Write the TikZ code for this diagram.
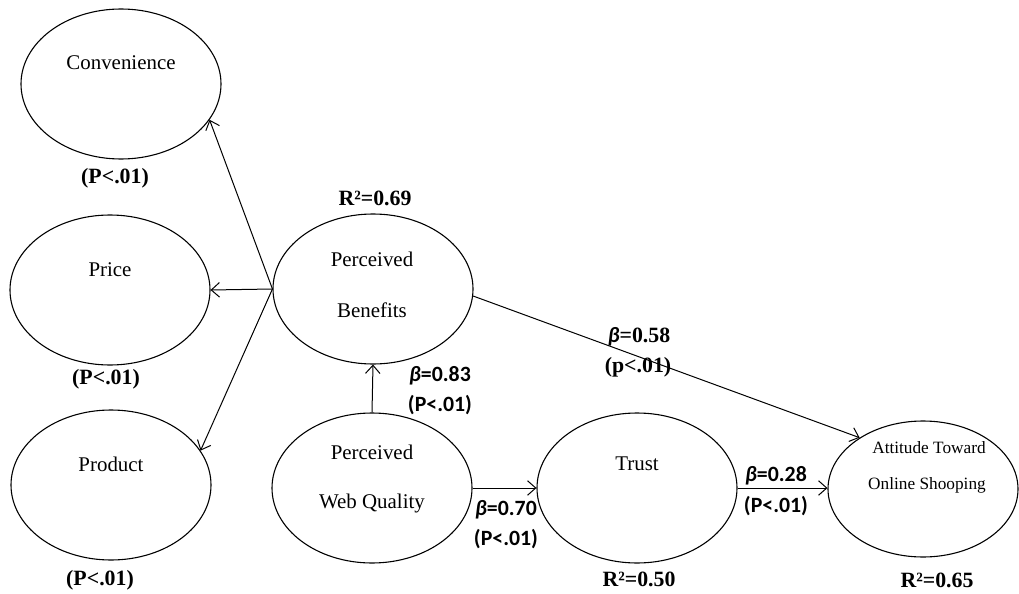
\documentclass[tikz,border=0pt]{standalone}
\usepackage{fontspec}
\setmainfont{Liberation Serif}
\newfontfamily\calib{Carlito}
\usetikzlibrary{shapes.geometric,arrows.meta}

\begin{document}
\begin{tikzpicture}[x=0.55pt,y=-0.55pt,
    latent/.style={ellipse,draw,line width=0.6pt,minimum width=110pt,minimum height=82.5pt,inner sep=0pt},
    smalllatent/.style={latent,minimum width=104.5pt,minimum height=74.8pt},
    construct/.style={font=\fontsize{11.5}{13}\selectfont,inner sep=0pt},
    sig/.style={font=\bfseries\fontsize{12}{14}\selectfont,inner sep=0pt},
    coef/.style={font=\calib\bfseries\fontsize{12}{14}\selectfont,inner sep=0pt},
    link/.style={-{Straight Barb[length=4.5pt,width=8pt]},line width=0.55pt}]

      \useasboundingbox (0,0) rectangle (1019,594);

      % ellipses
      \node[latent] (conv)  at (121,84)  {};
      \node[latent] (price) at (110,290) {};
      \node[latent] (prod)  at (111,485) {};
      \node[latent] (pb)    at (373,289) {};
      \node[latent] (pwq)   at (372,488) {};
      \node[latent] (trust) at (637,488) {};
      \node[smalllatent] (att) at (923,489) {};

      % names inside the ellipses
      \begin{scope}[every node/.style={construct}]
        \node (convtxt)  at (121,63)  {Convenience};
        \node (pricetxt) at (110,270) {Price};
        \node (prodtxt)  at (111,464) {Product};
        \node (pbtxt1)   at (372,259) {Perceived};
        \node (pbtxt2)   at (372,310) {Benefits};
        \node (pwqtxt1)  at (372,452) {Perceived};
        \node (pwqtxt2)  at (372,503) {Web Quality};
        \node (trusttxt) at (637,464) {Trust};
        \node[font=\fontsize{9.5}{11}\selectfont] (atttxt1) at (929,448) {Attitude Toward};
        \node[font=\fontsize{9.5}{11}\selectfont] (atttxt2) at (927,485) {Online Shooping};
      \end{scope}

      % paths
      \draw[link] (pb.west) -- (conv.-22);
      \draw[link] (pb.west) -- (price.east);
      \draw[link] (pb.west) -- (prod.21);
      \draw[link] (pwq.north) -- (pb.south);
      \draw[link] (pwq.east) -- (trust.west);
      \draw[link] (trust.east) -- (att.west |- trust.east);
      \draw[link] (pb.-4) -- (att.141);

      % significance and fit
      \begin{scope}[every node/.style={sig}]
        \node (convp)  at (115,178) {(P<.01)};
        \node (pricep) at (106,379) {(P<.01)};
        \node (prodp)  at (100,580) {(P<.01)};
        \node (pbr)    at (375,198) {R²=0.69};
        \node (trustr) at (639,579) {R²=0.50};
        \node (attr)   at (937,580) {R²=0.65};
        \node (pbattp) at (638,367) {(p<.01)};
      \end{scope}

      \begin{scope}[every node/.style={coef}]
        \node (pwqpbb)   at (440,376) {{\itshape β}=0.83};
        \node (pwqpbp)   at (440,405) {(P<.01)};
        \node[font=\bfseries\fontsize{12}{14}\selectfont] (pbattb) at (639,337) {{\calib\itshape β}=0.58};
        \node (pwqtrb)   at (506,510) {{\itshape β}=0.70};
        \node (pwqtrp)   at (506,539) {(P<.01)};
        \node (trattb)   at (776,476) {{\itshape β}=0.28};
        \node (trattp)   at (776,506) {(P<.01)};
      \end{scope}

    \end{tikzpicture}
\end{document}
